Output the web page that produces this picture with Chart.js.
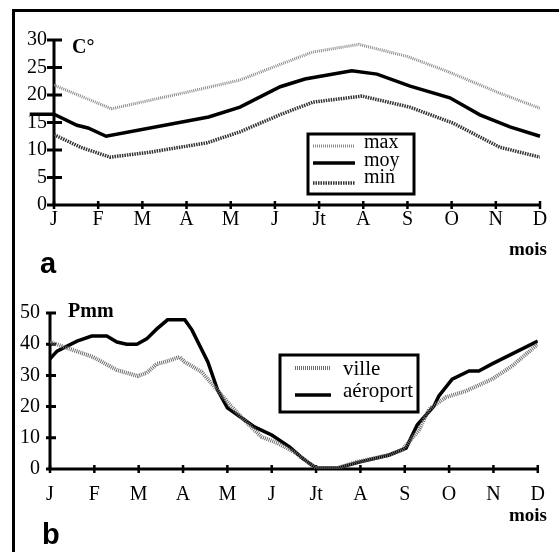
<!DOCTYPE html>
<html>
<head>
<meta charset="utf-8">
<script src="https://cdn.jsdelivr.net/npm/chart.js@4.4.1/dist/chart.umd.min.js"></script>
<style>
  html, body { margin: 0; padding: 0; background: #fff; }
  #wrap { position: relative; width: 559px; height: 552px; overflow: hidden; }
  #frame { position: absolute; left: 12px; top: 9px; width: 700px; height: 700px;
           border-left: 3px solid #000; border-top: 3px solid #000; }
  canvas { position: absolute; left: 0; }
</style>
</head>
<body>
<div id="wrap">
  <div id="frame"></div>
  <canvas id="temp" width="559" height="276" style="top:0"></canvas>
  <canvas id="rain" width="559" height="276" style="top:276px"></canvas>
</div>
<script>
// month labels (x = 0..11)
const months = ["J", "F", "M", "A", "M", "J", "Jt", "A", "S", "O", "N", "D"];

// a : temperatures (°C)
const tMaxX = [0, 1.3, 3.0, 4.2, 5.1, 5.85, 6.9, 8.0, 8.9, 10.1, 11];
const tMaxY = [21.8, 17.5, 20.5, 22.7, 25.5, 27.8, 29.2, 27.0, 24.3, 20.3, 17.6];
const tAvgX = [-0.55, 0, 0.52, 0.77, 1.18, 3.5, 4.21, 5.12, 5.68, 6.74, 7.31, 8.06, 8.96, 9.64, 10.32, 11];
const tAvgY = [16.5, 16.5, 14.5, 14.0, 12.5, 16.0, 17.8, 21.5, 22.9, 24.4, 23.8, 21.6, 19.5, 16.4, 14.2, 12.5];
const tMinX = [0, 0.6, 1.27, 2.17, 3.0, 3.46, 4.21, 5.11, 5.86, 6.97, 8.05, 9.03, 10.09, 11];
const tMinY = [12.8, 10.5, 8.7, 9.6, 10.7, 11.3, 13.3, 16.4, 18.7, 19.8, 17.8, 14.9, 10.5, 8.7];

// b : precipitation (mm)
const pCityX = [0, 0.97, 1.51, 1.98, 2.18, 2.41, 2.59, 2.92, 3.04, 3.42, 3.71, 4.1, 4.45, 4.77, 5.13, 5.51, 6.0, 6.48, 6.9, 7.65, 7.94, 8.32, 8.55, 8.93, 9.38, 9.97, 10.42, 11];
const pCityY = [40.7, 35.9, 31.7, 29.8, 30.8, 33.7, 34.3, 35.9, 34.3, 31.1, 26.3, 19.9, 14.7, 10.3, 8.3, 5.4, 0.3, 0.3, 2.2, 4.5, 6.1, 12.5, 19.2, 23, 25, 28.8, 33, 40];
const pAirX = [0, 0.16, 0.61, 0.94, 1.28, 1.51, 1.73, 1.96, 2.18, 2.41, 2.65, 3.04, 3.2, 3.56, 3.78, 4.0, 4.39, 4.61, 5.0, 5.4, 5.69, 6.0, 6.48, 6.97, 7.65, 8.03, 8.28, 8.66, 8.77, 9.07, 9.45, 9.67, 9.97, 11];
const pAirY = [35.3, 37.8, 41, 42.6, 42.6, 40.7, 40, 40, 41.7, 44.9, 47.8, 47.8, 44.6, 34.3, 25.3, 19.6, 15.7, 13.5, 10.9, 7.1, 3.5, 0.3, 0.3, 2.2, 4.5, 6.7, 14.1, 20.2, 23.4, 28.8, 31.4, 31.4, 33.7, 41];

const pts = (xs, ys) => xs.map((x, i) => ({ x: x, y: ys[i] }));
const serif = '"Liberation Serif", "Times New Roman", serif';

// axes with ticks crossing the line, free texts and the boxed legend
const decor = {
  id: 'decor',
  beforeDatasetsDraw(chart, args, o) {
    const ctx = chart.ctx, x = chart.scales.x, y = chart.scales.y;
    ctx.save();
    ctx.strokeStyle = '#000';
    ctx.lineWidth = 3;
    ctx.beginPath();
    ctx.moveTo(x.left, y.top - 1);
    ctx.lineTo(x.left, y.bottom + 1);
    ctx.moveTo(x.left, y.bottom);
    ctx.lineTo(x.right + 1, y.bottom);
    y.ticks.forEach(t => {
      const py = y.getPixelForValue(t.value);
      ctx.moveTo(x.left - o.yTick[0], py);
      ctx.lineTo(x.left + o.yTick[1], py);
    });
    ctx.stroke();
    ctx.lineWidth = 2.5;
    ctx.beginPath();
    x.ticks.forEach(t => {
      const px = x.getPixelForValue(t.value);
      ctx.moveTo(px, y.bottom - o.xTick);
      ctx.lineTo(px, y.bottom + o.xTick);
    });
    ctx.stroke();
    ctx.restore();
  },
  afterDraw(chart, args, o) {
    const ctx = chart.ctx;
    ctx.save();
    ctx.fillStyle = '#000';
    ctx.textBaseline = 'alphabetic';
    o.texts.forEach(t => {
      ctx.font = t.font;
      ctx.textAlign = t.align || 'left';
      ctx.fillText(t.text, t.x, t.y);
    });
    const lg = o.legend;
    ctx.lineWidth = 3;
    ctx.strokeStyle = '#000';
    ctx.strokeRect(lg.box[0], lg.box[1], lg.box[2] - lg.box[0], lg.box[3] - lg.box[1]);
    ctx.font = lg.font;
    ctx.textAlign = 'left';
    chart.data.datasets.filter(d => !d.noLegend).forEach((d, i) => {
      ctx.save();
      ctx.strokeStyle = d.borderColor;
      ctx.lineWidth = d.borderWidth;
      ctx.setLineDash(d.borderDash || []);
      ctx.beginPath();
      ctx.moveTo(lg.sample[0], lg.lineY[i]);
      ctx.lineTo(lg.sample[1], lg.lineY[i]);
      ctx.stroke();
      ctx.restore();
      ctx.fillText(d.label, lg.textX, lg.textY[i]);
    });
    ctx.restore();
  }
};

const monthAxis = (height, pad) => ({
  type: 'linear', min: 0, max: 11,
  grid: { display: false, drawTicks: false },
  border: { display: false },
  ticks: {
    stepSize: 1, color: '#000', padding: pad, maxRotation: 0, autoSkip: false,
    font: { family: serif, size: 20 },
    callback: v => months[v] ?? ''
  },
  afterFit: s => { s.height = height; }
});

new Chart(document.getElementById('temp'), {
  type: 'line',
  data: {
    datasets: [
      { label: 'max', data: pts(tMaxX, tMaxY), borderColor: '#8c8c8c', borderWidth: 3, borderDash: [1, 1] },
      { label: 'moy', data: pts(tAvgX, tAvgY), borderColor: '#000', borderWidth: 3.5, clip: false },
      { label: 'min', data: pts(tMinX, tMinY), borderColor: '#333', borderWidth: 3.5, borderDash: [1.5, 1] }
    ]
  },
  options: {
    responsive: false, animation: false,
    elements: { point: { radius: 0 }, line: { tension: 0, borderCapStyle: 'butt' } },
    layout: { padding: { left: 0, right: 19, top: 40, bottom: 0 } },
    scales: {
      x: monthAxis(71, 3),
      y: {
        min: 0, max: 30,
        grid: { display: false, drawTicks: false },
        border: { display: false },
        ticks: { stepSize: 5, color: '#000', padding: 7, font: { family: serif, size: 20 } },
        afterFit: s => { s.width = 54; }
      }
    },
    plugins: {
      legend: { display: false },
      tooltip: { enabled: false },
      decor: {
        yTick: [7, 8], xTick: 4,
        texts: [
          { text: 'C°', x: 72, y: 53, font: 'bold 20px ' + serif },
          { text: 'mois', x: 547, y: 255, align: 'right', font: 'bold 19px ' + serif },
          { text: 'a', x: 40, y: 273, font: 'bold 29px "Liberation Sans", Arial, sans-serif' }
        ],
        legend: {
          box: [308, 134, 414, 194], sample: [313, 355], textX: 364,
          lineY: [146, 163, 183], textY: [148, 166, 183], font: '20px ' + serif
        }
      }
    }
  },
  plugins: [decor]
});

new Chart(document.getElementById('rain'), {
  type: 'line',
  data: {
    datasets: [
      { label: 'ville', data: pts(pCityX, pCityY), borderColor: '#6e6e6e', borderWidth: 4, borderDash: [1, 1] },
      { label: 'aéroport', data: pts(pAirX, pAirY), borderColor: '#000', borderWidth: 3.5 }
    ]
  },
  options: {
    responsive: false, animation: false,
    elements: { point: { radius: 0 }, line: { tension: 0, borderCapStyle: 'butt' } },
    layout: { padding: { left: 0, right: 20, top: 37, bottom: 0 } },
    scales: {
      x: monthAxis(83, 14),
      y: {
        min: 0, max: 50,
        grid: { display: false, drawTicks: false },
        border: { display: false },
        ticks: {
          stepSize: 5, color: '#000', padding: 10, font: { family: serif, size: 20 },
          callback: v => (v % 10 === 0 ? v : '')
        },
        afterFit: s => { s.width = 50; }
      }
    },
    plugins: {
      legend: { display: false },
      tooltip: { enabled: false },
      decor: {
        yTick: [4, 6], xTick: 4,
        texts: [
          { text: 'Pmm', x: 68, y: 41, font: 'bold 20px ' + serif },
          { text: 'mois', x: 547, y: 245, align: 'right', font: 'bold 19px ' + serif },
          { text: 'b', x: 42, y: 268, font: 'bold 29px "Liberation Sans", Arial, sans-serif' }
        ],
        legend: {
          box: [280, 79, 418, 136], sample: [295, 331], textX: 343,
          lineY: [92, 119], textY: [99, 121], font: '21px ' + serif
        }
      }
    }
  },
  plugins: [decor]
});
</script>
</body>
</html>
